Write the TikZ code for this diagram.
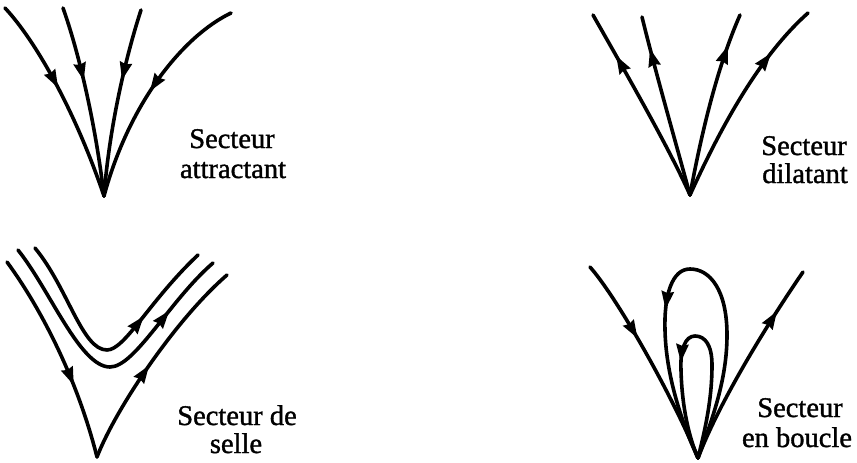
\documentclass[tikz,border=0pt]{standalone}
\usepackage{fontspec}
\setmainfont{Liberation Serif}[BoldFont=Liberation Serif, BoldFeatures={FakeBold=1.2}]
\usetikzlibrary{decorations.markings}
\tikzset{
  flow/.style={line width=3.6pt, line cap=round, line join=round},
  arrowat/.style={postaction={decorate,decoration={markings,mark=at position #1 with {\fill (4pt,0pt) -- (-14pt,-6.5pt) -- (-12pt,0pt) -- (-14pt,6.5pt) -- cycle;}}}},
  lbl/.style={anchor=base, font=\fontsize{28.5}{30}\selectfont\bfseries, inner sep=0pt},
}
\begin{document}
\begin{tikzpicture}[x=1pt,y=-1pt]
\useasboundingbox (0,0) rectangle (857,463);
% attractant
\coordinate (A1) at (104,196);
\draw[flow,arrowat=0.43] (5,8) .. controls (35,40) and (75,110) .. (A1);
\draw[flow,arrowat=0.37] (63,8) .. controls (78,50) and (95,120) .. (A1);
\draw[flow,arrowat=0.36] (141,10) .. controls (128,50) and (110,120) .. (A1);
\draw[flow,arrowat=0.48] (231,13) .. controls (185,35) and (130,100) .. (A1);
% dilatant
\coordinate (A2) at (690,195);
\draw[flow,arrowat=0.75] (A2) .. controls (670,150) and (630,80) .. (593,15);
\draw[flow,arrowat=0.8] (A2) .. controls (675,140) and (655,70) .. (642,17);
\draw[flow,arrowat=0.8] (A2) .. controls (702,130) and (718,65) .. (740,15);
\draw[flow,arrowat=0.73] (A2) .. controls (715,140) and (755,60) .. (808,13);
% selle
\coordinate (A3) at (97,457);
\draw[flow,arrowat=0.63] (7,262) .. controls (35,300) and (75,370) .. (A3);
\draw[flow,arrowat=0.45] (A3) .. controls (115,410) and (175,320) .. (227,275);
\draw[flow,arrowat=0.77] (18,250) .. controls (50,290) and (80,367) .. (110,367) .. controls (135,367) and (170,300) .. (213,263);
\draw[flow,arrowat=0.67] (35,248) .. controls (68,288) and (82,350) .. (107,350) .. controls (125,350) and (150,300) .. (198,255);
% boucle
\coordinate (A4) at (698,458);
\draw[flow,arrowat=0.37] (590,267) .. controls (615,295) and (670,390) .. (A4);
\draw[flow,arrowat=0.76] (A4) .. controls (720,400) and (770,320) .. (803,272);
\draw[flow,arrowat=0.62] (A4) .. controls (712,420) and (727,380) .. (727,335)
  .. controls (727,290) and (710,269) .. (690,269)
  .. controls (672,269) and (664,295) .. (665,330)
  .. controls (666,380) and (685,430) .. (A4);
\draw[flow,arrowat=0.61] (A4) .. controls (705,430) and (712,400) .. (712,365)
  .. controls (712,345) and (705,336) .. (695,336)
  .. controls (685,336) and (680,350) .. (681,370)
  .. controls (682,410) and (690,440) .. (A4);
% labels
\node[lbl] (l1a) at (232,148) {Secteur};
\node[lbl] (l1b) at (233,178) {attractant};
\node[lbl] (l2a) at (804,155) {Secteur};
\node[lbl] (l2b) at (805,183) {dilatant};
\node[lbl] (l3a) at (237,425) {Secteur de};
\node[lbl] (l3b) at (236,453) {selle};
\node[lbl] (l4a) at (800,417) {Secteur};
\node[lbl] (l4b) at (797,447) {en boucle};
\end{tikzpicture}
\end{document}
